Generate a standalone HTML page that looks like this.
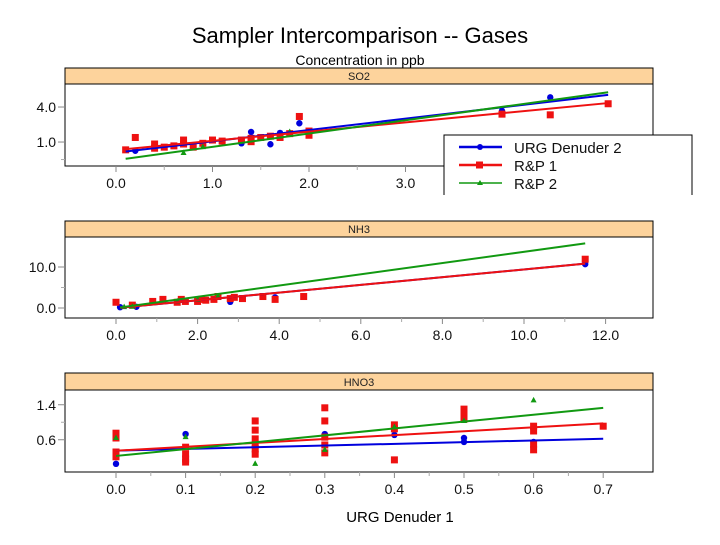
<!DOCTYPE html>
<html><head><meta charset="utf-8"><style>
body{margin:0;background:#fff;}
svg text{font-family:"Liberation Sans",sans-serif;}
</style></head><body>
<svg id="c" width="720" height="540" xmlns="http://www.w3.org/2000/svg">
<text x="360" y="43" font-size="22" text-anchor="middle" fill="#000">Sampler Intercomparison -- Gases</text>
<text x="360" y="65" font-size="14" text-anchor="middle" fill="#000">Concentration in ppb</text>
<text x="400" y="522" font-size="15" text-anchor="middle" fill="#000">URG Denuder 1</text>
</svg>
<script>
// ---- SO2 data ----
const so2RedX=[0.1,0.2,0.4,0.4,0.5,0.6,0.7,0.7,0.8,0.9,1.0,1.1,1.3,1.4,1.4,1.5,1.6,1.7,1.8,1.9,2.0,2.0,4.0,4.5,5.1];
const so2RedY=[0.33,1.39,0.83,0.47,0.56,0.67,1.17,0.83,0.56,0.89,1.17,1.08,1.17,1.31,1.03,1.39,1.5,1.39,1.72,3.19,1.94,1.58,3.39,3.33,4.28];
const so2BlueX=[0.2,1.3,1.4,1.6,1.7,1.9,4.0,4.5];
const so2BlueY=[0.25,0.89,1.86,0.81,1.78,2.61,3.67,4.83];
const so2GreenX=[0.7,1.8,0.9];
const so2GreenY=[0.06,1.86,0.56];
const so2Fit={blue:[0.09,0.97],red:[0.31,0.79],green:[-0.55,1.14]};
const so2FitRange=[0.1,5.1];
const so2XTicks=[0,1,2,3,4,5];
const so2XLabels=["0.0","1.0","2.0","3.0","",""];
const so2YTicks=[1,4];
const so2YLabels=["1.0","4.0"];
// ---- NH3 data ----
const nh3RedX=[0.0,0.4,0.9,1.15,1.5,1.6,1.7,2.0,2.1,2.2,2.4,2.5,2.8,2.9,3.1,3.6,3.9,4.6,11.5];
const nh3RedY=[1.4,0.7,1.6,2.1,1.4,2.1,1.6,1.6,2.1,1.9,2.1,2.8,2.3,2.6,2.3,2.8,2.1,2.8,11.9];
const nh3BlueX=[0.1,0.5,0.9,2.8,3.9,11.5];
const nh3BlueY=[0.2,0.3,1.5,1.5,2.6,10.7];
const nh3GreenX=[0.2,0.4,1.5,2.0,2.5];
const nh3GreenY=[0.2,0.3,1.6,2.0,2.8];
const nh3Fit={blue:[0.0,0.94],red:[0.0,0.94],green:[0.0,1.37]};
const nh3FitRange=[0.1,11.5];
const nh3XTicks=[0,2,4,6,8,10,12];
const nh3XLabels=["0.0","2.0","4.0","6.0","8.0","10.0","12.0"];
const nh3YTicks=[0,10];
const nh3YLabels=["0.0","10.0"];
// ---- HNO3 data ----
const hnoRedX=[0,0,0,0,0.1,0.1,0.1,0.1,0.2,0.2,0.2,0.2,0.2,0.2,0.3,0.3,0.3,0.3,0.3,0.4,0.4,0.4,0.5,0.5,0.5,0.6,0.6,0.6,0.6,0.7];
const hnoRedY=[0.75,0.64,0.32,0.21,0.43,0.27,0.16,0.09,1.03,0.82,0.62,0.48,0.39,0.27,1.33,1.03,0.66,0.48,0.30,0.94,0.85,0.14,1.3,1.21,1.07,0.91,0.80,0.50,0.37,0.91];
const hnoBlueX=[0,0.1,0.1,0.3,0.4,0.5,0.5,0.6,0.6];
const hnoBlueY=[0.05,0.73,0.43,0.73,0.71,0.64,0.55,0.55,0.48];
const hnoGreenX=[0,0.1,0.2,0.3,0.4,0.5,0.6];
const hnoGreenY=[0.64,0.66,0.05,0.37,0.89,1.03,1.5];
const hnoFit={blue:[0.35,0.39],red:[0.35,0.89],green:[0.23,1.57]};
const hnoFitRange=[0,0.7];
const hnoXTicks=[0,0.1,0.2,0.3,0.4,0.5,0.6,0.7];
const hnoXLabels=["0.0","0.1","0.2","0.3","0.4","0.5","0.6","0.7"];
const hnoYTicks=[0.6,1.4];
const hnoYLabels=["0.6","1.4"];

const svg=document.getElementById('c');
const NS='http://www.w3.org/2000/svg';
const COL={blue:'#0000dd',red:'#ee1111',green:'#119911'};
function mk(tag,attrs,parent){const e=document.createElementNS(NS,tag);for(const k in attrs)e.setAttribute(k,attrs[k]);(parent||svg).appendChild(e);return e;}

function panel(cfg){
  const g=mk('g',{});
  
  
  const L=65,R=653;
  const sx=v=>cfg.x0+v*cfg.xk, sy=v=>cfg.y0-v*cfg.yk;
  const st=mk('rect',{x:L,y:cfg.top,width:R-L,height:cfg.stripH,fill:'#fdd39c',stroke:'#000','stroke-width':1},g);
  
  
  const stt=mk('text',{x:(L+R)/2,y:cfg.top+cfg.stripH-4,'font-size':11,'text-anchor':'middle',fill:'#222'},g);
  stt.textContent=cfg.name;
  
  
  const pr=mk('rect',{x:L,y:cfg.top+cfg.stripH,width:R-L,height:cfg.bottom-cfg.top-cfg.stripH,fill:'#fff',stroke:'#000','stroke-width':1},g);
  
  
  cfg.xt.forEach((v,i)=>{
    const x=sx(v);
    mk('line',{x1:x,x2:x,y1:cfg.bottom,y2:cfg.bottom+6,stroke:'#888'},g);
    if(i<cfg.xt.length-1){const xm=sx((v+cfg.xt[i+1])/2);mk('line',{x1:xm,x2:xm,y1:cfg.bottom,y2:cfg.bottom+4,stroke:'#aaa'},g);}
    if(cfg.xl[i]){const t=mk('text',{x:x,y:cfg.bottom+22,'font-size':14,'text-anchor':'middle',fill:'#111'},g);t.textContent=cfg.xl[i];
      
      }
  });
  cfg.yt.forEach((v,i)=>{
    const y=sy(v);
    mk('line',{x1:L-7,x2:L,y1:y,y2:y,stroke:'#888'},g);
    const t=mk('text',{x:L-9,y:y+5,'font-size':14,'text-anchor':'end',fill:'#111'},g);t.textContent=cfg.yl[i];
    
    
  });
  if(cfg.ym!==undefined){const y=sy(cfg.ym);mk('line',{x1:L-4,x2:L,y1:y,y2:y,stroke:'#aaa'},g);}
  function pts(xs,ys,color,shape){
    xs.forEach((xv,i)=>{
      const x=sx(xv),y=sy(ys[i]);let e;
      if(shape==='sq')e=mk('rect',{x:x-3.5,y:y-3.5,width:7,height:7,fill:COL[color]},g);
      else if(shape==='ci')e=mk('circle',{cx:x,cy:y,r:3.2,fill:COL[color]},g);
      else e=mk('polygon',{points:`${x},${y-3.5} ${x-3},${y+2} ${x+3},${y+2}`,fill:COL[color]},g);
      
      
    });
  }
  pts(cfg.blue[0],cfg.blue[1],'blue','ci');
  pts(cfg.red[0],cfg.red[1],'red','sq');
  pts(cfg.green[0],cfg.green[1],'green','tr');
  ['blue','red','green'].forEach(c=>{
    const [a,b]=cfg.fit[c];const [x0,x1]=cfg.fr;
    const l=mk('line',{x1:sx(x0),y1:sy(a+b*x0),x2:sx(x1),y2:sy(a+b*x1),stroke:COL[c],'stroke-width':2},g);
    
    
  });
}
panel({name:'SO2',top:68,stripH:16,bottom:166,x0:116,xk:96.5,y0:153.7,yk:11.67,xt:so2XTicks,xl:so2XLabels,yt:so2YTicks,yl:so2YLabels,ym:-0.5,
  blue:[so2BlueX,so2BlueY],red:[so2RedX,so2RedY],green:[so2GreenX,so2GreenY],fit:so2Fit,fr:so2FitRange});
panel({name:'NH3',top:221,stripH:16,bottom:318,x0:116,xk:40.8,y0:308,yk:4.1,xt:nh3XTicks,xl:nh3XLabels,yt:nh3YTicks,yl:nh3YLabels,ym:5,
  blue:[nh3BlueX,nh3BlueY],red:[nh3RedX,nh3RedY],green:[nh3GreenX,nh3GreenY],fit:nh3Fit,fr:nh3FitRange});
panel({name:'HNO3',top:373,stripH:17,bottom:472,x0:116,xk:696,y0:466,yk:43.75,xt:hnoXTicks,xl:hnoXLabels,yt:hnoYTicks,yl:hnoYLabels,ym:1.0,
  blue:[hnoBlueX,hnoBlueY],red:[hnoRedX,hnoRedY],green:[hnoGreenX,hnoGreenY],fit:hnoFit,fr:hnoFitRange});

const lg=mk('g',{});


mk('rect',{x:444,y:135,width:248,height:70,fill:'#fff',stroke:'#000','stroke-width':1},lg);
const entries=[['URG Denuder 2','blue'],['R&P 1','red'],['R&P 2','green']];
entries.forEach((en,i)=>{
  const y=147+i*18;
  const e=mk('g',{},lg);
  
  
  mk('line',{x1:459,x2:502,y1:y,y2:y,stroke:COL[en[1]],'stroke-width':i==2?1.5:2.5},e);
  if(i==0)mk('circle',{cx:480,cy:y,r:3,fill:COL.blue},e);
  else if(i==1)mk('rect',{x:476,y:y-3.5,width:7,height:7,fill:COL.red},e);
  else mk('polygon',{points:`480,${y-3} 477,${y+2} 483,${y+2}`,fill:COL.green},e);
  const t=mk('text',{x:514,y:y+6,'font-size':15,fill:'#111'},e);t.textContent=en[0];
});
mk('rect',{x:440,y:195,width:260,height:20,fill:'#fff'});
</script>
</body></html>
